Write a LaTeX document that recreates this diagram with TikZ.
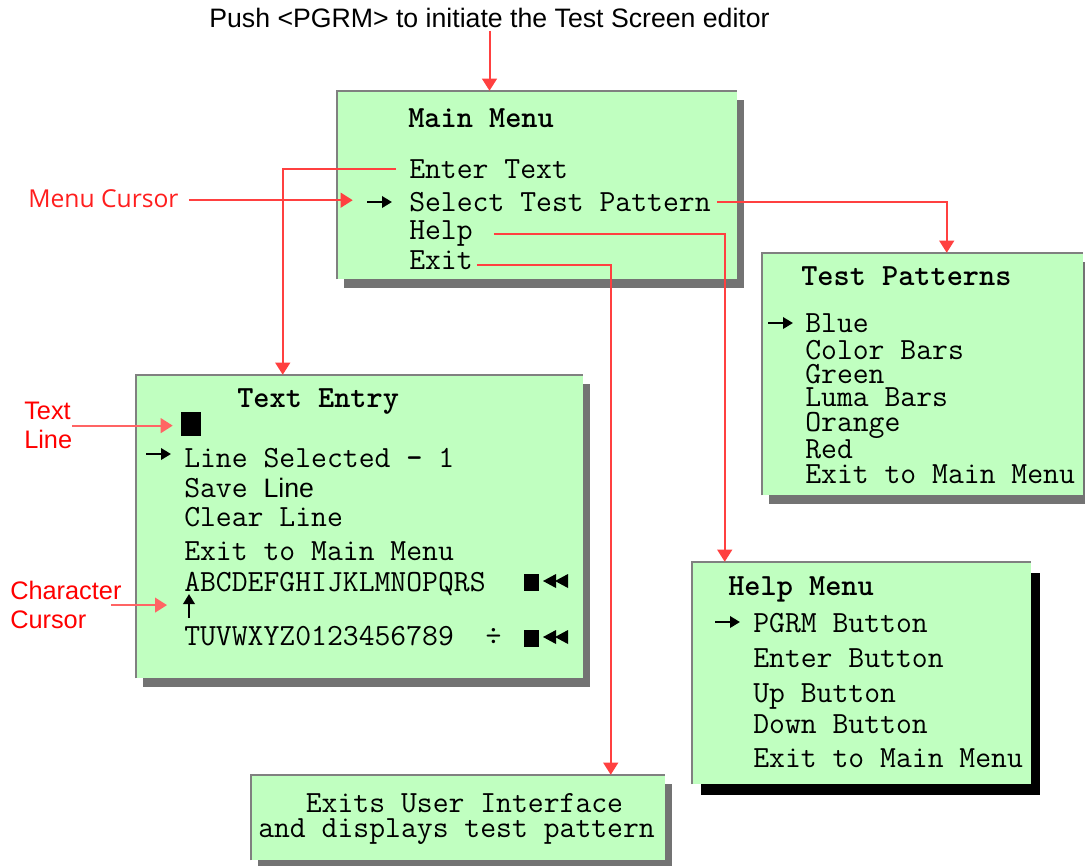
\documentclass[tikz,border=0pt]{standalone}
\usepackage{fontspec}
\setmainfont{Liberation Sans}
\newfontfamily\notefont{Open Sans}
\usetikzlibrary{arrows.meta,calc,fit,shadows}
\definecolor{screengreen}{RGB}{192,255,192}
\definecolor{rimgray}{RGB}{128,128,128}
\definecolor{shadegray}{RGB}{115,115,115}
\definecolor{linkred}{RGB}{255,64,64}
\definecolor{hintred}{RGB}{255,100,100}
\definecolor{notered}{RGB}{255,30,30}
\newcommand\scrfont{\ttfamily\fontsize{23.1}{24}\selectfont}
\tikzset{
  screen/.style={fill=screengreen, inner sep=0pt, drop shadow={shadow xshift=4.9pt, shadow yshift=-6.4pt, fill=shadegray, opacity=1}},
  darkscreen/.style={fill=screengreen, inner sep=0pt, drop shadow={shadow xshift=6.75pt, shadow yshift=-8.25pt, fill=black, opacity=1}},
  rim/.style={draw=rimgray, line width=1.5pt},
  item/.style={anchor=base west, inner sep=0pt, font=\scrfont},
  title/.style={item, font=\scrfont\bfseries},
  link/.style={draw=linkred, line width=1.5pt, -{Triangle[length=9pt,width=11pt]}},
  hint/.style={link, draw=hintred},
  note/.style={inner sep=0pt, text=red, align=left, font=\fontsize{19}{21.75}\selectfont},
  pointer/.style={line width=1.8pt, -{Triangle[length=7.5pt,width=8.5pt]}},
}
\begin{document}
\begin{tikzpicture}[x=0.75pt,y=-0.75pt]
	\useasboundingbox (0,0) rectangle (1085,865);
	% screens
	\node[screen, fit={(337,91) (737,279)}] (mainbox) {};
	\node[screen, fit={(762,253) (1083,495)}] (patbox) {};
	\node[screen, fit={(136,375) (583,678)}] (entrybox) {};
	\node[darkscreen, fit={(692,562) (1031,784)}] (helpbox) {};
	\node[screen, fit={(251,775) (665,860)}] (exitbox) {};
	\foreach \b in {mainbox,patbox,entrybox,helpbox,exitbox}
		\draw[rim] (\b.south west) |- (\b.north east);
	% main menu
	\node[title] (maint) at (408,127) {Main Menu};
	\node[item] (enter) at (409,178) {Enter Text};
	\node[item] (select) at (409,211) {Select Test Pattern};
	\node[item] (help) at (409,239) {Help};
	\node[item] (exit) at (409,269) {Exit};
	\draw[pointer] (367,202) -- ++(25,0);
	% test patterns
	\node[title] (patt) at (801,285) {Test Patterns};
	\foreach \y/\t [count=\i] in {332/Blue, 359/Color Bars, 383/Green, 406/Luma Bars, 431/Orange, 458/Red, 483/Exit to Main Menu}
		\node[item] (pat\i) at (805,\y) {\t};
	\draw[pointer] (768,323) -- ++(25,0);
	% text entry
	\node[title] (entryt) at (237,407) {Text Entry};
	\node[fill, inner sep=0pt, minimum width=15pt, minimum height=18pt] (lineblk) at (191,424) {};
	\node[item] (linesel) at (184,467) {Line Selected {\bfseries -} 1};
	\node[item] (save) at (184,497) {Save {\rmfamily\fontsize{20}{24}\selectfont Line}};
	\node[item] (clear) at (184,526) {Clear Line};
	\node[item] (back) at (184,560) {Exit to Main Menu};
	\node[item] (row1) at (184,591) {ABCDEFGHIJKLMNOPQRS};
	\node[item] (row2) at (184,645) {TUVWXYZ0123456789\ \ ÷};
	\draw[pointer] (146,454) -- ++(25,0);
	\coordinate (charptr) at (189,618);
	\draw[pointer] (charptr) -- ++(0,-24);
	\fill (524,574) rectangle (539,591);
	\fill (524,630) rectangle (539,647);
	\foreach \y in {581,637} {
		\fill (543,\y) -- (556,\y-7) -- (556,\y+7) -- cycle;
		\fill (555,\y) -- (568,\y-7) -- (568,\y+7) -- cycle;
	}
	% help menu
	\node[title] (helpt) at (728,595) {Help Menu};
	\foreach \y/\t [count=\i] in {632/PGRM Button, 667/Enter Button, 702/Up Button, 733/Down Button, 767/Exit to Main Menu}
		\node[item] (hm\i) at (753,\y) {\t};
	\draw[pointer] (715,622) -- ++(25,0);
	% exit
	\node[item, anchor=north west, align=left, font=\ttfamily\fontsize{23.1}{18.75}\selectfont] (exitnote) at (258,793) {\phantom{xxx}Exits User Interface\\and displays test pattern};
	% notes
	\node[inner sep=0pt, anchor=base, font=\fontsize{20}{22}\selectfont] (push) at (489.5,27) {Push <PGRM> to initiate the Test Screen editor};
	\node[note, anchor=base west, text=notered, font=\notefont\fontsize{18.5}{22}\selectfont] (mc) at (28,207) {Menu Cursor};
	\node[note, anchor=north west] (tl) at (24,402) {Text\\Line};
	\node[note, anchor=north west] (cc) at (10,581) {Character\\Cursor};
	% links
	\draw[link] ($(push.south)+(0,3)$) -- (push.south |- mainbox.north);
	\draw[link] ($(mc.east)+(10,2)$) -- ($(mc.east -| mainbox.west)+(16,2)$);
	\draw[link] ($(enter.mid west)+(-13,-5)$) -| ($(entrybox.north west)+(147,0)$);
	\draw[link] ($(select.mid east)+(6,-5)$) -| ($(patbox.north west)+(185,0)$);
	\draw[link] ($(help.mid east)+(21,-1)$) -| ($(helpbox.north west)+(33,0)$);
	\draw[link] ($(exit.mid east)+(4,0)$) -| ($(exitbox.north west)+(360,0)$);
	\draw[hint, shorten >=6pt] (tl.east) -- (tl.east -| lineblk.west);
	\draw[hint] ($(cc.east)+(-11,0)$) -- ($(cc.east -| charptr)+(-22,0)$);
\end{tikzpicture}
\end{document}
